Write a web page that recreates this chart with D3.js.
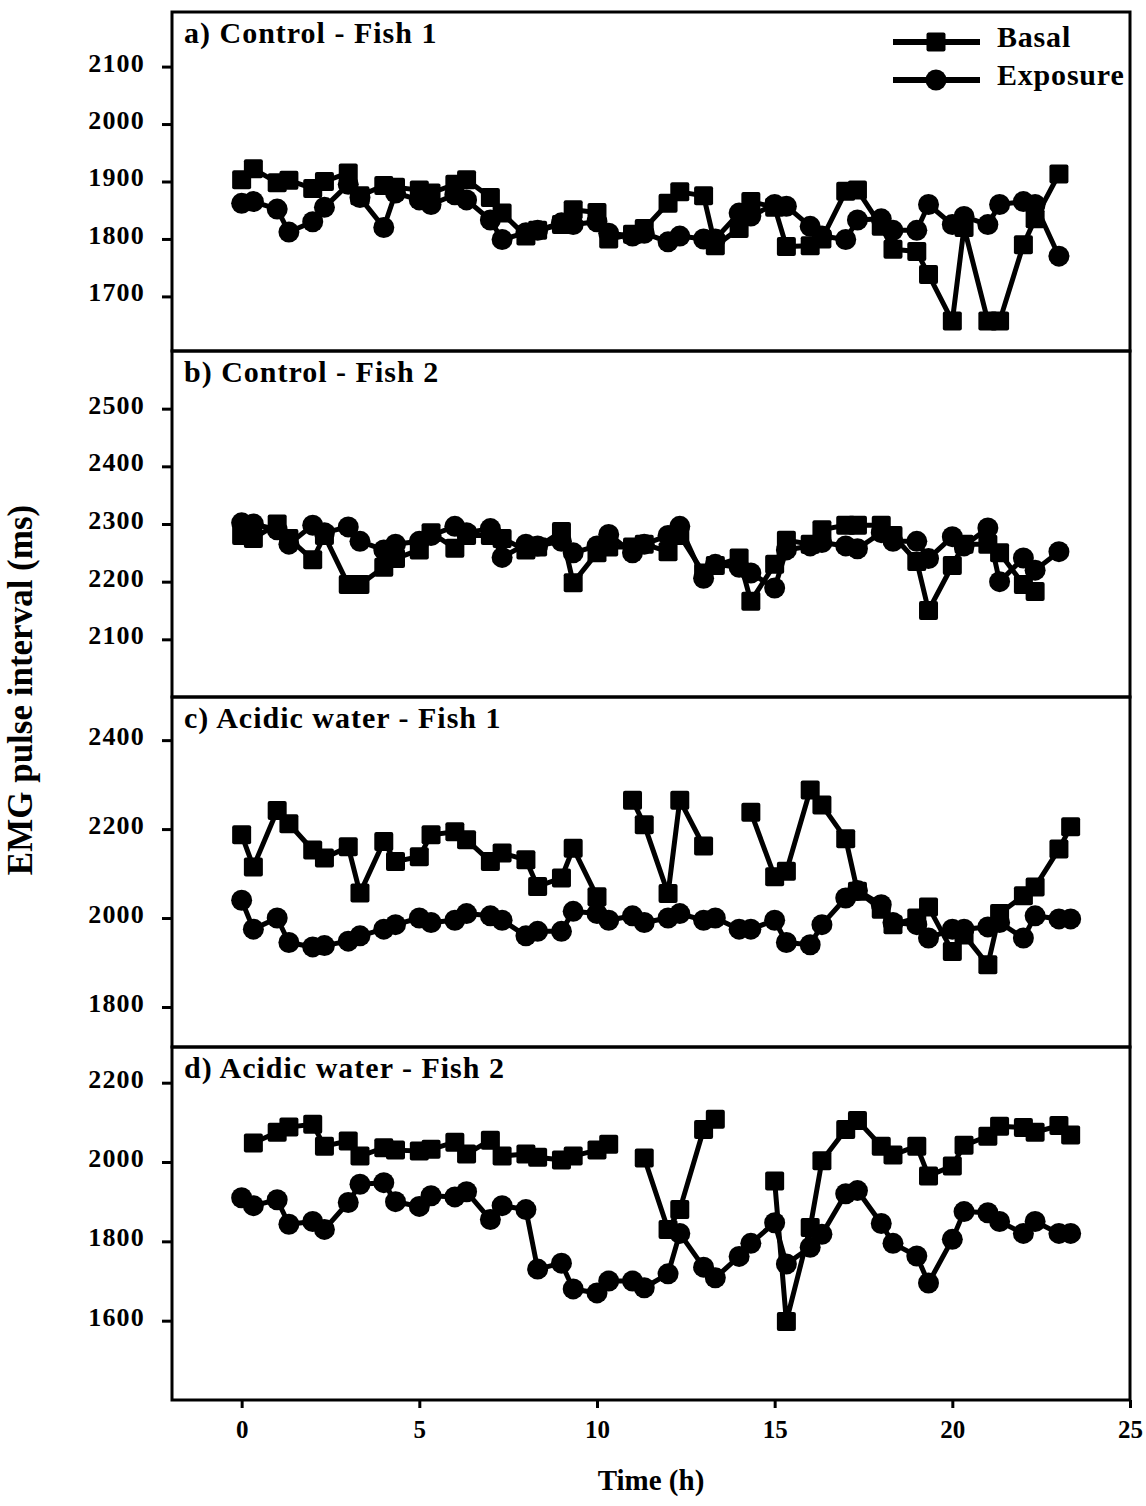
<!DOCTYPE html>
<html>
<head>
<meta charset="utf-8">
<script src="https://cdn.jsdelivr.net/npm/d3@7"></script>
<style>
  body { margin: 0; background: #fff; }
  svg text { font-family: "Liberation Serif", "Times New Roman", serif; font-weight: bold; fill: #000; }
</style>
</head>
<body>
<script>
// sampling times (h), two readings per hour
const hours = [0, 0.33, 1, 1.33, 2, 2.33, 3, 3.33, 4, 4.33, 5, 5.33, 6, 6.33, 7, 7.33,
  8, 8.33, 9, 9.33, 10, 10.33, 11, 11.33, 12, 12.33, 13, 13.33, 14, 14.33, 15, 15.33,
  16, 16.33, 17, 17.33, 18, 18.33, 19, 19.33, 20, 20.33, 21, 21.33, 22, 22.33, 23, 23.33];

// a) Control - Fish 1
const basalA = [1903, 1922, 1898, 1902, 1888, 1900, 1915, 1875, 1893, 1890,
  1885, 1880, 1895, 1903, 1872, 1845, 1805, 1815, 1825, 1851,
  1846, 1800, 1808, 1818, 1862, 1882, 1875, 1788, 1818, 1865,
  1855, 1787, 1788, 1800, 1883, 1885, 1822, 1782, 1778, 1738,
  1657, 1820, 1657, 1657, 1790, 1835, 1913, null];
const exposureA = [1862, 1865, 1852, 1812, 1830, 1855, 1895, 1872, 1820, 1880,
  1868, 1860, 1877, 1868, 1833, 1799, 1811, 1815, 1828, 1825,
  1830, 1810, 1805, 1810, 1795, 1805, 1800, 1800, 1845, 1840,
  1860, 1857, 1822, 1805, 1799, 1833, 1835, 1815, 1815, 1860,
  1825, 1839, 1825, 1860, 1865, 1860, 1770, null];

// b) Control - Fish 2
const basalB = [2280, 2275, 2300, 2275, 2238, 2280, 2195, 2195, 2225, 2240,
  2255, 2285, 2258, 2280, 2280, 2275, 2255, 2260, 2287, 2198,
  2250, 2260, 2260, 2265, 2252, 2280, 2215, 2228, 2241, 2166,
  2230, 2272, 2265, 2290, 2298, 2298, 2298, 2280, 2235, 2150,
  2228, 2265, 2265, 2250, 2195, 2183, null, null];
const exposureB = [2302, 2300, 2290, 2265, 2298, 2285, 2295, 2270, 2255, 2265,
  2270, 2280, 2296, 2285, 2292, 2242, 2265, 2262, 2270, 2250,
  2262, 2282, 2250, 2265, 2280, 2296, 2206, 2230, 2225, 2215,
  2189, 2255, 2262, 2268, 2262, 2257, 2285, 2270, 2270, 2240,
  2278, 2262, 2293, 2200, 2241, 2220, 2252, null];

// c) Acidic water - Fish 1
const basalC = [2187, 2115, 2242, 2212, 2153, 2135, 2160, 2056, 2172, 2127,
  2138, 2187, 2194, 2176, 2127, 2146, 2131, 2071, 2090, 2157,
  2048, null, 2265, 2210, 2055, 2265, 2162, null, null, 2238,
  2093, 2105, 2288, 2254, 2178, 2060, 2020, 1985, 2000, 2025,
  1925, 1962, 1895, 2010, 2050, 2070, 2155, 2205];
const exposureC = [2040, 1975, 2000, 1945, 1935, 1938, 1948, 1960, 1975, 1985,
  2000, 1990, 1995, 2010, 2005, 1995, 1960, 1970, 1970, 2015,
  2010, 1995, 2005, 1990, 2000, 2010, 1995, 2000, 1975, 1975,
  1995, 1945, 1940, 1985, 2045, 2062, 2030, 1990, 1985, 1955,
  1975, 1975, 1980, 1990, 1955, 2005, 1998, 1998];

// d) Acidic water - Fish 2
const basalD = [null, 2048, 2075, 2088, 2095, 2040, 2053, 2015, 2036, 2030,
  2028, 2032, 2050, 2020, 2055, 2015, 2020, 2012, 2005, 2015,
  2030, 2045, null, 2010, 1830, 1880, 2082, 2108, null, null,
  1952, 1598, 1835, 2003, 2082, 2105, 2040, 2018, 2040, 1965,
  1990, 2042, 2065, 2090, 2087, 2075, 2092, 2068];
const exposureD = [1910, 1890, 1905, 1843, 1850, 1830, 1898, 1944, 1948, 1900,
  1888, 1915, 1912, 1925, 1855, 1890, 1880, 1730, 1745, 1680,
  1670, 1700, 1700, 1683, 1718, 1820, 1735, 1708, 1762, 1795,
  1847, 1743, 1785, 1818, 1920, 1928, 1845, 1795, 1763, 1695,
  1805, 1875, 1872, 1850, 1820, 1850, 1820, 1820];

const panelTitles = ['a) Control - Fish 1', 'b) Control - Fish 2', 'c) Acidic water - Fish 1', 'd) Acidic water - Fish 2'];
const yDomains = [[1605, 2195], [2000, 2600], [1710, 2497], [1400, 2290]];
const yTicks = [
  [1700, 1800, 1900, 2000, 2100],
  [2100, 2200, 2300, 2400, 2500],
  [1800, 2000, 2200, 2400],
  [1600, 1800, 2000, 2200]
];
const xTicks = [0, 5, 10, 15, 20, 25];
const legendLabels = ['Basal', 'Exposure'];

const panels = [
  { basal: basalA, exposure: exposureA },
  { basal: basalB, exposure: exposureB },
  { basal: basalC, exposure: exposureC },
  { basal: basalD, exposure: exposureD }
];

// layout
const width = 1146, height = 1506;
const left = 172, right = 1130;
const edges = [12, 351, 697, 1047, 1400];
const sq = 19, rad = 10.5, lw = 5;

const svg = d3.select('body').append('svg')
  .attr('width', width)
  .attr('height', height);

const x = d3.scaleLinear().domain([-1.96, 25]).range([left, right]);

const toPoints = vals => vals.map((v, i) => ({ h: hours[i], v: v }));

const drawSeries = (g, y, vals, shape) => {
  const pts = toPoints(vals);
  const line = d3.line()
    .defined(d => d.v != null)
    .x(d => x(d.h))
    .y(d => y(d.v));
  g.append('path')
    .attr('d', line(pts))
    .attr('fill', 'none')
    .attr('stroke', '#000')
    .attr('stroke-width', lw)
    .attr('stroke-linejoin', 'round');
  const ok = pts.filter(d => d.v != null);
  if (shape === 'square') {
    g.selectAll('rect.mk').data(ok).join('rect')
      .classed('mk', true)
      .attr('x', d => x(d.h) - sq / 2)
      .attr('y', d => y(d.v) - sq / 2)
      .attr('width', sq).attr('height', sq)
      .attr('rx', 2)
      .attr('fill', '#000');
  } else {
    g.selectAll('circle.mk').data(ok).join('circle')
      .classed('mk', true)
      .attr('cx', d => x(d.h))
      .attr('cy', d => y(d.v))
      .attr('r', rad)
      .attr('fill', '#000');
  }
};

panels.forEach((p, i) => {
  const top = edges[i], bottom = edges[i + 1];
  const y = d3.scaleLinear().domain(yDomains[i]).range([bottom, top]);

  const yAxis = d3.axisLeft(y)
    .tickValues(yTicks[i])
    .tickSize(10)
    .tickPadding(17)
    .tickFormat(d3.format('d'));

  const ga = svg.append('g')
    .attr('transform', `translate(${left},0)`)
    .call(yAxis);
  ga.select('.domain').remove();
  ga.selectAll('line').attr('stroke', '#000').attr('stroke-width', 3);
  ga.selectAll('text')
    .attr('font-size', 26)
    .attr('dy', '0.17em')
    .attr('letter-spacing', 1.2)
    .style('font-family', '"Liberation Serif", serif')
    .style('font-weight', 'bold');

  svg.append('text')
    .attr('x', 184)
    .attr('y', top + 31)
    .attr('font-size', 30)
    .attr('letter-spacing', 1)
    .text(panelTitles[i]);

  const g = svg.append('g');
  drawSeries(g.append('g'), y, p.basal, 'square');
  drawSeries(g.append('g'), y, p.exposure, 'circle');

  svg.append('rect')
    .attr('x', left).attr('y', top)
    .attr('width', right - left).attr('height', bottom - top)
    .attr('fill', 'none')
    .attr('stroke', '#000')
    .attr('stroke-width', 3);
});

// x axis on bottom panel
const xAxis = d3.axisBottom(x)
  .tickValues(xTicks)
  .tickSize(8)
  .tickPadding(12)
  .tickFormat(d3.format('d'));

const gx = svg.append('g')
  .attr('transform', `translate(0,${edges[4]})`)
  .call(xAxis);
gx.select('.domain').remove();
gx.selectAll('line').attr('stroke', '#000').attr('stroke-width', 3);
gx.selectAll('text')
  .attr('font-size', 25)
  .style('font-family', '"Liberation Serif", serif')
  .style('font-weight', 'bold');

svg.append('text')
  .attr('x', 651)
  .attr('y', 1490)
  .attr('text-anchor', 'middle')
  .attr('font-size', 29)
  .text('Time (h)');

svg.append('text')
  .attr('transform', 'translate(32,690) rotate(-90)')
  .attr('text-anchor', 'middle')
  .attr('font-size', 35)
  .text('EMG pulse interval (ms)');

// legend
const legend = svg.append('g');
legendLabels.forEach((lab, i) => {
  const ly = [42, 80][i];
  legend.append('line')
    .attr('x1', 893).attr('x2', 980)
    .attr('y1', ly).attr('y2', ly)
    .attr('stroke', '#000').attr('stroke-width', lw + 1);
  if (i === 0) {
    legend.append('rect')
      .attr('x', 936 - sq / 2).attr('y', ly - sq / 2)
      .attr('width', sq).attr('height', sq).attr('rx', 2)
      .attr('fill', '#000');
  } else {
    legend.append('circle')
      .attr('cx', 936).attr('cy', ly).attr('r', rad)
      .attr('fill', '#000');
  }
  legend.append('text')
    .attr('x', 997)
    .attr('y', ly + 5)
    .attr('font-size', 30)
    .attr('letter-spacing', 0.8)
    .text(lab);
});
</script>
</body>
</html>
